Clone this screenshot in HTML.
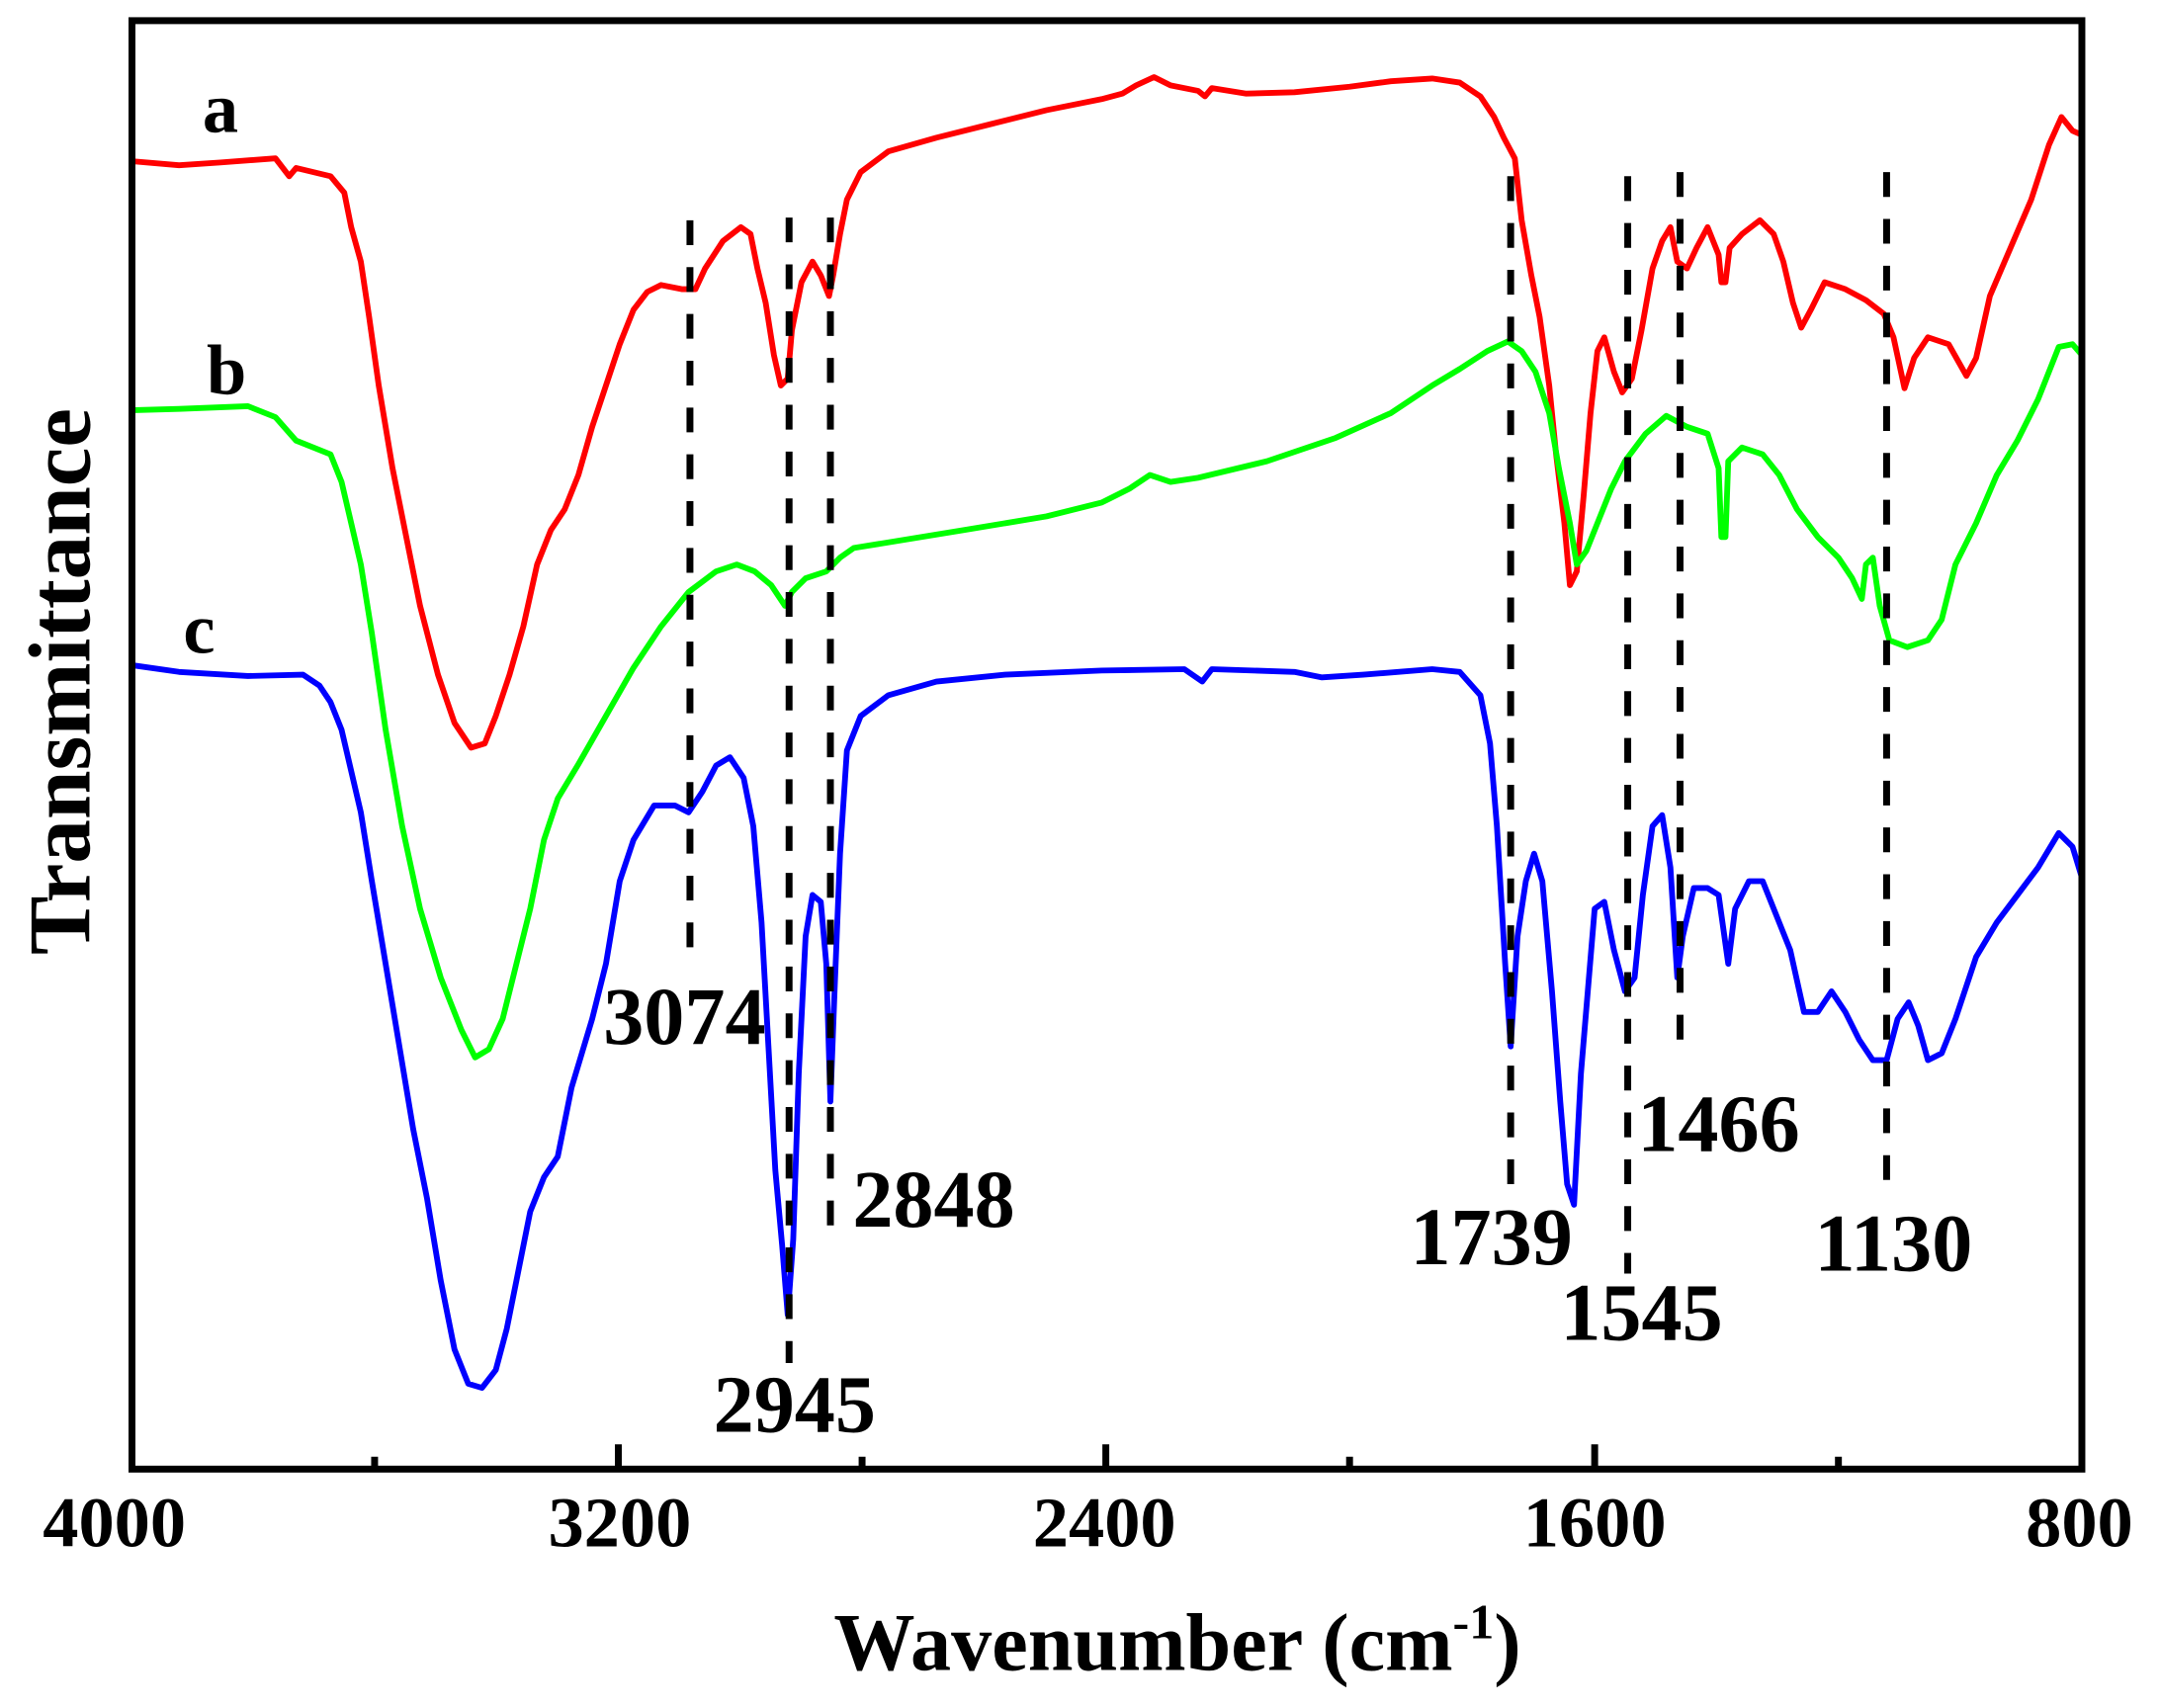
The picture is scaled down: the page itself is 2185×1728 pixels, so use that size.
<!DOCTYPE html>
<html><head><meta charset="utf-8"><style>
html,body{margin:0;padding:0;background:#fff;}
svg{display:block;}
text{font-family:"Liberation Serif",serif;font-weight:bold;fill:#000;}
</style></head><body>
<svg width="2185" height="1728" viewBox="0 0 1568.5 1240.5" xmlns="http://www.w3.org/2000/svg">
<g fill="none" stroke-linejoin="round" stroke-width="4.2">
<polyline stroke="#ff0000" points="95,117 130,120 160,118 200,115 210,128 215,122 240,128 250,140 255,165 262,190 268,230 275,280 285,340 295,390 305,440 318,490 330,525 342,543 352,540 360,520 370,490 380,455 390,410 400,385 410,370 420,345 430,310 440,280 450,250 460,225 470,212 480,207 495,210 505,210 512,195 525,175 538,165 545,170 550,195 556,220 562,258 567,280 572,275 575,240 582,205 590,190 596,200 602,215 605,200 610,170 615,145 625,125 645,110 680,100 720,90 760,80 800,72 815,68 825,62 838,56 850,62 870,66 875,70 880,64 905,68 940,67 980,63 1010,59 1040,57 1060,60 1075,70 1085,85 1092,100 1100,115 1105,160 1112,200 1118,230 1125,280 1130,330 1136,380 1140,425 1145,415 1150,360 1155,300 1160,255 1165,245 1172,270 1178,285 1185,275 1192,240 1200,195 1207,175 1213,165 1218,190 1225,195 1232,180 1240,165 1248,185 1250,205 1253,205 1256,180 1265,170 1278,160 1288,170 1295,190 1302,220 1308,238 1315,225 1325,205 1340,210 1355,218 1368,228 1375,245 1383,282 1390,260 1400,245 1415,250 1428,273 1435,260 1445,215 1460,180 1475,145 1488,105 1497,85 1505,95 1512,98"/>
<polyline stroke="#00ff00" points="95,298 130,297 180,295 200,303 215,320 240,330 248,350 255,380 262,410 270,460 280,530 292,600 305,660 320,710 335,748 345,768 355,762 365,740 375,700 385,660 395,610 405,580 420,555 440,520 460,485 480,455 500,430 520,415 535,410 548,415 560,425 570,440 575,430 585,420 600,415 610,405 620,398 700,385 760,375 800,365 820,355 835,345 850,350 870,347 920,335 970,318 1010,300 1040,280 1060,268 1080,255 1095,248 1105,255 1115,270 1125,300 1132,340 1140,380 1145,410 1152,400 1160,380 1170,355 1180,335 1195,315 1210,302 1225,310 1240,315 1248,340 1250,390 1253,390 1255,335 1265,325 1280,330 1292,345 1305,370 1320,390 1335,405 1345,420 1352,435 1355,410 1360,405 1365,440 1372,465 1385,470 1400,465 1410,450 1420,410 1435,380 1450,345 1465,320 1480,290 1495,252 1505,250 1512,258"/>
<polyline stroke="#0000ff" points="95,483 130,488 180,491 220,490 232,498 240,510 248,530 255,560 262,590 270,640 280,700 290,760 300,820 310,870 320,930 330,980 340,1005 350,1008 360,995 368,965 376,925 385,880 395,855 405,840 415,790 430,740 440,700 450,640 460,610 475,585 490,585 500,590 510,575 520,556 530,550 540,565 547,600 553,670 558,760 563,850 568,905 572,955 576,900 580,780 585,680 590,650 596,655 600,700 603,800 606,720 610,620 615,545 625,520 645,505 680,495 730,490 800,487 860,486 873,495 880,486 940,488 960,492 990,490 1040,486 1060,488 1075,505 1082,540 1087,600 1093,700 1097,760 1102,680 1108,640 1114,620 1120,640 1127,720 1133,800 1138,860 1143,875 1148,780 1153,720 1158,660 1165,655 1172,690 1180,720 1187,710 1193,650 1200,600 1207,592 1213,630 1218,710 1222,680 1230,645 1240,645 1248,650 1255,700 1260,660 1270,640 1280,640 1290,665 1300,690 1310,735 1320,735 1330,720 1340,735 1350,755 1360,770 1370,770 1378,740 1386,728 1393,745 1400,770 1410,765 1420,740 1435,695 1450,670 1465,650 1480,630 1495,605 1505,615 1512,638"/>
</g>
<g stroke="#000" stroke-width="5" stroke-dasharray="18,16" fill="none">
<line x1="501" y1="160" x2="501" y2="700"/>
<line x1="573" y1="158" x2="573" y2="990"/>
<line x1="603" y1="158" x2="603" y2="895"/>
<line x1="1097" y1="128" x2="1097" y2="870"/>
<line x1="1182" y1="128" x2="1182" y2="925"/>
<line x1="1220" y1="125" x2="1220" y2="765"/>
<line x1="1370" y1="125" x2="1370" y2="865"/>
</g>
<g stroke="#000" stroke-width="5" fill="none">
<rect x="95.8" y="15" width="1416" height="1052"/>
<line x1="449" y1="1067" x2="449" y2="1049"/>
<line x1="803" y1="1067" x2="803" y2="1049"/>
<line x1="1158" y1="1067" x2="1158" y2="1049"/>
<line x1="272" y1="1067" x2="272" y2="1058"/>
<line x1="626" y1="1067" x2="626" y2="1058"/>
<line x1="980" y1="1067" x2="980" y2="1058"/>
<line x1="1335" y1="1067" x2="1335" y2="1058"/>
</g>
<g font-size="59" text-anchor="middle">
<text x="497" y="758">3074</text>
<text x="577" y="1040">2945</text>
<text x="678" y="891">2848</text>
<text x="1083" y="918">1739</text>
<text x="1192" y="973">1545</text>
<text x="1248" y="836">1466</text>
<text x="1375" y="923">1130</text>
</g>
<g font-size="52">
<text x="147" y="96">a</text>
<text x="150" y="286">b</text>
<text x="133" y="474">c</text>
</g>
<g font-size="52" text-anchor="middle">
<text x="83" y="1123">4000</text>
<text x="450" y="1123">3200</text>
<text x="802" y="1123">2400</text>
<text x="1158" y="1123">1600</text>
<text x="1510" y="1123">800</text>
</g>
<text x="855" y="1213" font-size="59" text-anchor="middle">Wavenumber (cm<tspan font-size="36" dy="-23">-1</tspan><tspan dy="23">)</tspan></text>
<text transform="translate(65,495) rotate(-90)" font-size="64" text-anchor="middle">Transmittance</text>
</svg>
</body></html>
